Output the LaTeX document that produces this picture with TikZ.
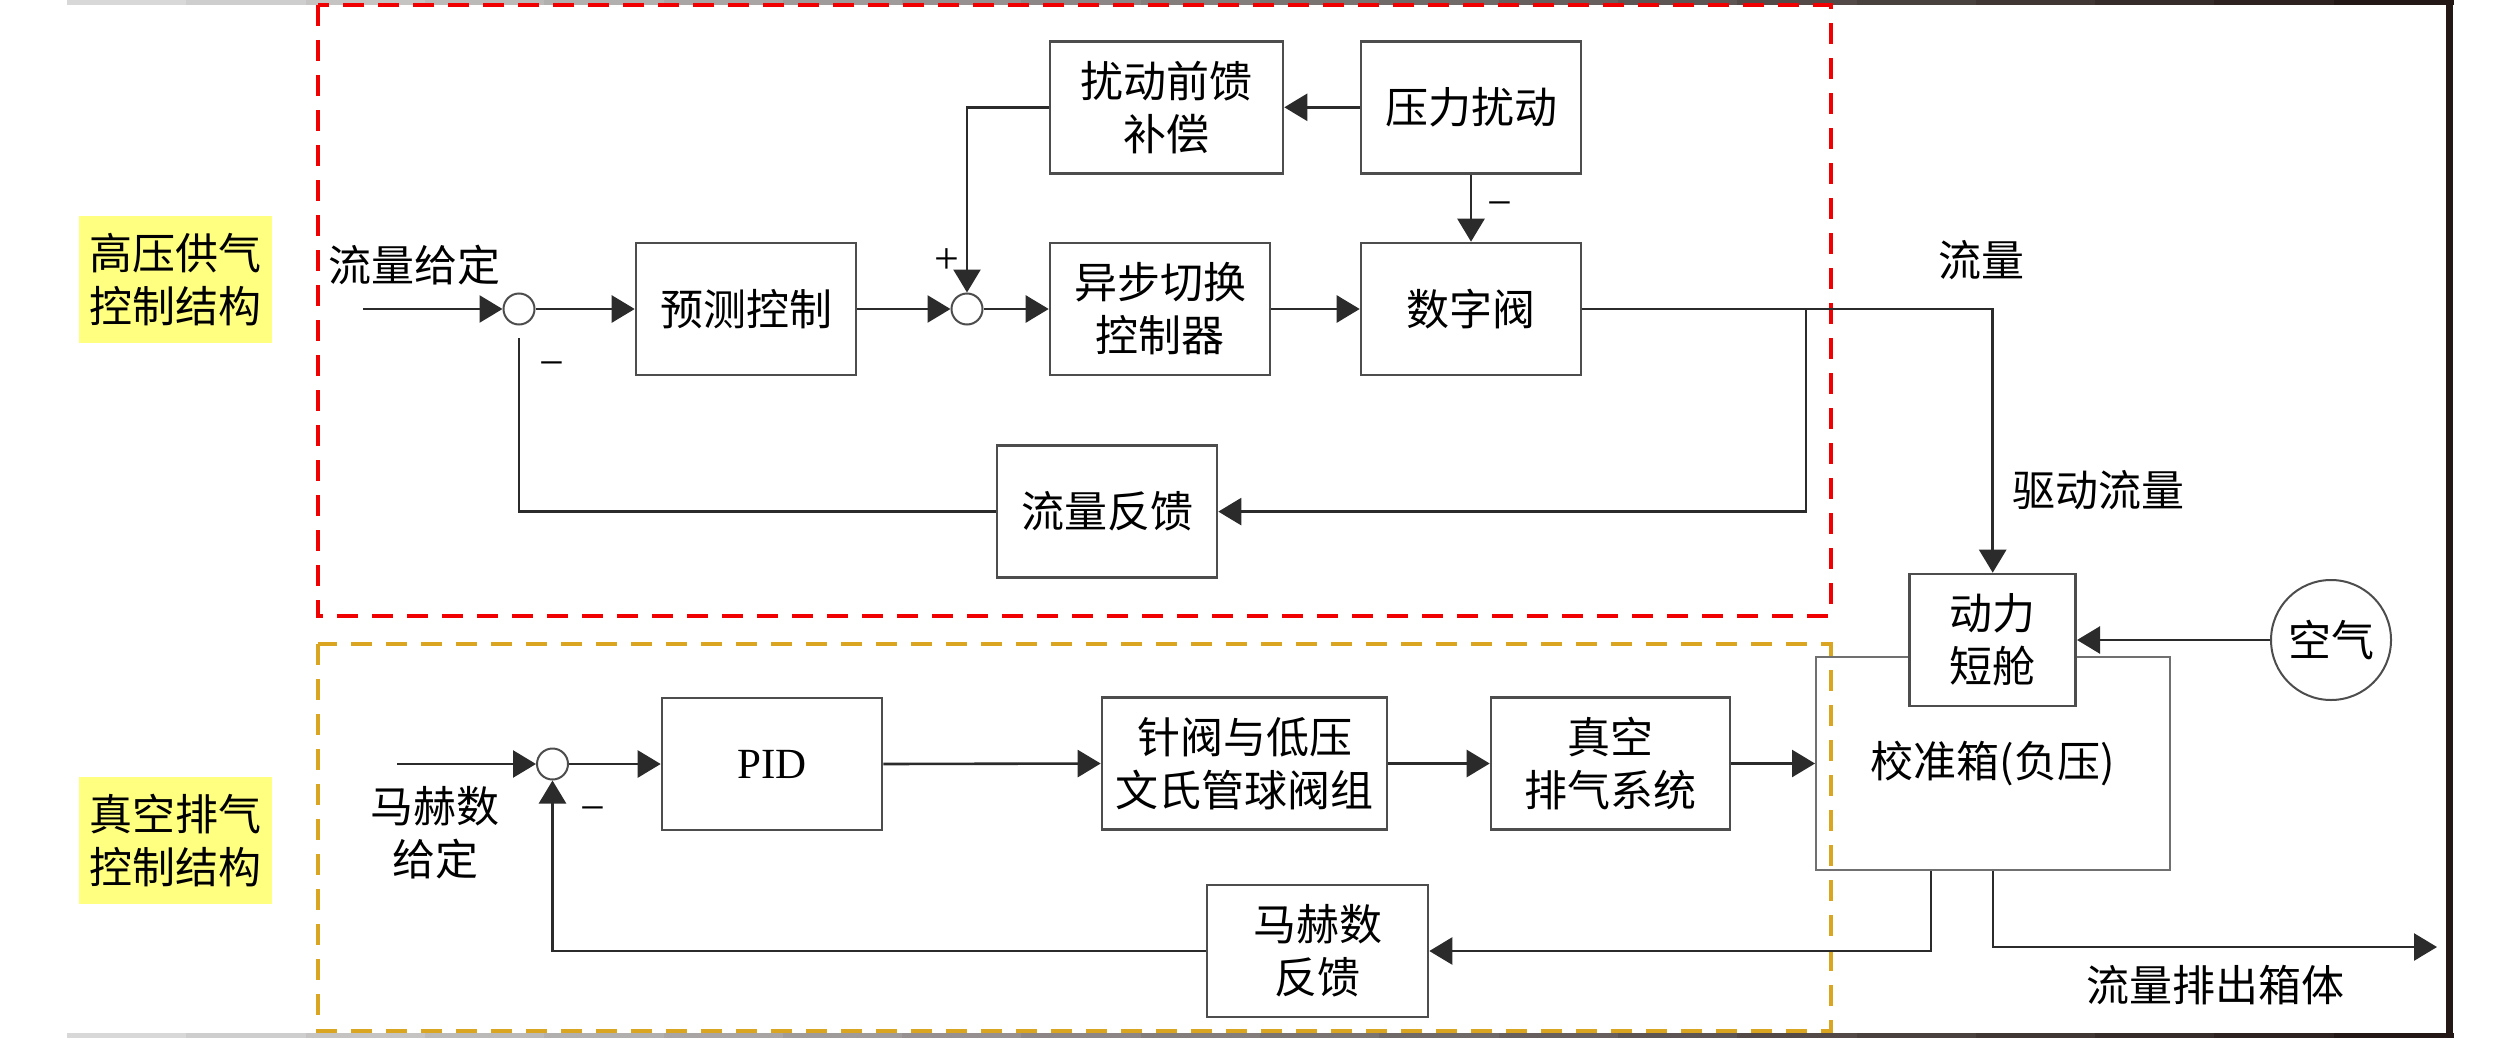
\documentclass[tikz,border=0pt]{standalone}
\usepackage{fontspec}
\setmainfont{Noto Sans CJK SC}
\newfontfamily\lat{Liberation Serif}
\usetikzlibrary{arrows.meta}
\definecolor{bord}{HTML}{4D4D4D}
\definecolor{lin}{HTML}{2B2B2B}
\definecolor{calbd}{HTML}{707070}
\definecolor{frm}{HTML}{231815}
\definecolor{frl}{HTML}{E2E2E2}
\definecolor{redd}{HTML}{F00000}
\definecolor{orng}{HTML}{DAA520}
\definecolor{labyel}{HTML}{FFFF80}
\begin{document}
\begin{tikzpicture}[x=0.5pt,y=-0.5pt,
  every node/.style={font=\fontsize{21.5pt}{26.5pt}\selectfont, inner sep=0pt},
  bx/.style={draw=bord, line width=1.3pt, fill=white, align=center, minimum height=66pt},
  sumc/.style={circle, draw=bord, line width=1pt, fill=white, minimum size=15.5pt},
  arr/.style={line width=1.3pt, draw=lin, -{Triangle[length=11.5pt,width=13.5pt]}},
  ln/.style={line width=1.3pt, draw=lin},
  lab/.style={fill=labyel, align=center, minimum width=96.5pt, minimum height=63.5pt},
  txt/.style={align=center},
  sgn/.style={font=\lat\fontsize{22pt}{22pt}\selectfont},
  grp/.style={line width=2pt, dash pattern=on 10.5pt off 7pt}]
\fill[white] (0,0) rectangle (2520,1038);
\useasboundingbox (0,0) rectangle (2520,1038);
% outer frame (top and bottom fade from light at left to dark at right)
\foreach \i in {0,...,19} {
  \pgfmathtruncatemacro\pc{5*\i+5}
  \pgfmathsetmacro\xa{67+119.3*\i}
  \pgfmathsetmacro\xb{67+119.3*(\i+1)+0.5}
  \fill[frm!\pc!frl] (\xa,0) rectangle (\xb,5);
  \fill[frm!\pc!frl] (\xa,1033) rectangle (\xb,1038);
}
\fill[frm] (2446,0) rectangle (2453,1038);
% group frames
\draw[grp, redd] (318,5) rectangle (1830.5,615.7);
\draw[grp, orng] (318,644) rectangle (1830.5,1031);
% labels
\node[lab] (l1) at (175.5,279.5) {高压供气\\控制结构};
\node[lab] (l2) at (175.5,840.5) {真空排气\\控制结构};
% upper loop
\node[sumc] (c1) at (519,309) {};
\node[bx, minimum width=110pt] (yc) at (746,309) {预测控制};
\node[sumc] (c2) at (967,309) {};
\node[bx, minimum width=116.5pt] (ff) at (1166.5,107.3) {扰动前馈\\补偿};
\node[bx, minimum width=110pt] (as) at (1160,309) {异步切换\\控制器};
\node[bx, minimum width=110pt] (pd) at (1471,107.3) {压力扰动};
\node[bx, minimum width=110pt] (dv) at (1471,309) {数字阀};
\node[bx, minimum width=110pt] (fb) at (1107,511.6) {流量反馈};
% right side
\node[draw=calbd, line width=1pt, minimum width=177pt, minimum height=106.5pt] (cal) at (1993,763.5) {校准箱(负压)};
\node[bx, minimum width=83pt] (ds) at (1992.7,640) {动力\\短舱};
\node[circle, draw=bord, line width=1pt, minimum size=60pt] (air) at (2331,640) {空气};
% lower loop
\node[sumc] (c3) at (552.5,764) {};
\node[bx, minimum width=110pt] (pid) at (772,764) {\lat PID};
\node[bx, minimum width=142.5pt] (nv) at (1244.5,763.5) {针阀与低压\\文氏管球阀组};
\node[bx, minimum width=119.5pt] (vs) at (1610.5,763.5) {真空\\排气系统};
\node[bx, minimum width=110.5pt] (mf) at (1317.5,951) {马赫数\\反馈};
% free texts
\node[txt] (t1) at (414,265) {流量给定};
\node[txt] (t2) at (435,833) {马赫数\\给定};
\node (t3) at (1981,260) {流量};
\node (t4) at (2098,490) {驱动流量};
\node (t5) at (2215,985) {流量排出箱体};
\node[sgn] (m1) at (552,370) {−};
\node[sgn] (m2) at (593,815) {−};
\node[sgn] (m3) at (1500,210) {−};
\node[sgn] (p1) at (946.5,261) {+};
% coordinates
\coordinate (in1) at (363,309);
\coordinate (br) at (1806,309);
\coordinate (fbend) at (519,338);
\coordinate (in2) at (397,764);
\coordinate (out) at (2437,947);
% upper connectors
\draw[arr] (in1) -- (c1.west);
\draw[arr] (c1.east) -- (yc.west);
\draw[arr] (yc.east) -- (c2.west);
\draw[arr] (c2.east) -- (as.west);
\draw[arr] (as.east) -- (dv.west);
\draw[arr] (pd.west) -- (ff.east);
\draw[arr] (ff.west) -| (c2.north);
\draw[arr] (pd.south) -- (dv.north);
\draw[arr] (dv.east) -| (ds.north);
\draw[arr] (br) |- (fb.east);
\draw[ln] (fb.west) -| (fbend);
% lower connectors
\draw[arr] (in2) -- (c3.west);
\draw[arr] (c3.east) -- (pid.west);
\draw[arr] (pid.east) -- (nv.west);
\draw[arr] (nv.east) -- (vs.west);
\draw[arr] (vs.east) -- (cal.west);
\draw[arr] (air.west) -- (ds.east);
\draw[arr] (cal.south) ++(-62,0) |- (mf.east);
\draw[arr] (cal.south) |- (out);
\draw[arr] (mf.west) -| (c3.south);
\end{tikzpicture}
\end{document}
